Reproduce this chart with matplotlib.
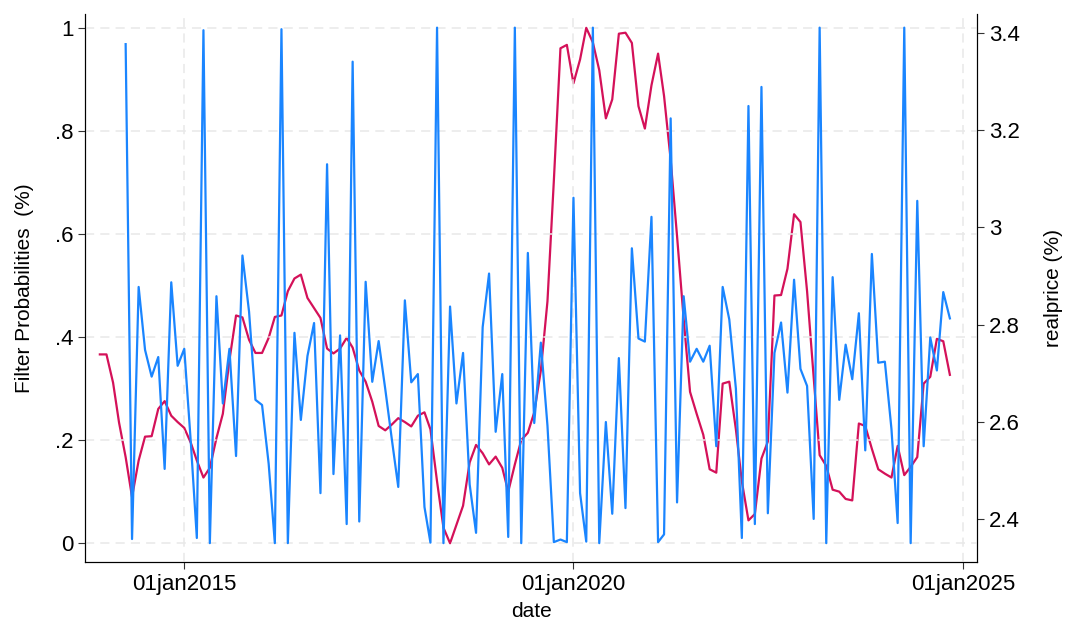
import matplotlib
matplotlib.use("Agg")
import matplotlib.pyplot as plt
import pandas as pd
import datetime as dt

plt.rcParams["font.family"] = ["Liberation Sans", "DejaVu Sans"]

# monthly real price, Dec 2013 - Nov 2024
realprice = [
    2.739, 2.739, 2.681, 2.599, 2.528, 2.446, 2.521, 2.570, 2.571, 2.627,
    2.643, 2.613, 2.600, 2.588, 2.557, 2.521, 2.486, 2.506, 2.567, 2.617,
    2.727, 2.819, 2.815, 2.769, 2.742, 2.742, 2.773, 2.816, 2.819, 2.869,
    2.895, 2.903, 2.855, 2.834, 2.814, 2.751, 2.741, 2.751, 2.773, 2.753,
    2.706, 2.683, 2.642, 2.592, 2.583,
    2.595, 2.608, 2.600, 2.591, 2.613, 2.620, 2.585, 2.478, 2.383, 2.351,
    2.389, 2.428, 2.517, 2.553, 2.536, 2.513, 2.529, 2.506, 2.457, 2.513,
    2.563, 2.578, 2.620, 2.706, 2.848, 3.096, 3.368, 3.375, 3.296, 3.345,
    3.410, 3.380, 3.323, 3.224, 3.263, 3.398, 3.400, 3.379, 3.249, 3.203,
    3.292, 3.357, 3.270,
    3.139, 2.982, 2.812, 2.662, 2.617, 2.574, 2.503, 2.496, 2.679, 2.683,
    2.585, 2.478, 2.398, 2.411, 2.525, 2.560, 2.860, 2.861, 2.915, 3.027,
    3.011, 2.869, 2.691, 2.532, 2.510, 2.461, 2.457, 2.442, 2.439, 2.597,
    2.592, 2.545, 2.503, 2.494, 2.486, 2.551, 2.491, 2.508, 2.528, 2.679,
    2.693, 2.771, 2.766, 2.697,
]

# monthly filter probabilities, Apr 2014 - Nov 2024
filter_prob = [
    0.968, 0.008, 0.497, 0.375, 0.323, 0.361, 0.144, 0.506, 0.344, 0.377,
    0.194, 0.010, 0.995, 0.0, 0.479, 0.271, 0.377, 0.169, 0.558, 0.449,
    0.278, 0.268, 0.154, 0.0, 0.997, 0.0, 0.408, 0.239, 0.363, 0.427,
    0.097, 0.735, 0.134, 0.403, 0.037, 0.934, 0.042, 0.507, 0.313, 0.392,
    0.299, 0.201, 0.109, 0.471, 0.312, 0.328, 0.070, 0.001, 1.0, 0.0,
    0.459, 0.271, 0.369, 0.114, 0.020, 0.419, 0.523, 0.216, 0.328, 0.012,
    1.0, 0.0, 0.563, 0.233, 0.389, 0.228, 0.002, 0.007, 0.002, 0.670,
    0.097, 0.003, 1.0, 0.0, 0.235, 0.057, 0.359, 0.068, 0.572, 0.397,
    0.391, 0.633, 0.002, 0.017,
    0.824, 0.079, 0.479, 0.352, 0.377, 0.352, 0.383, 0.188, 0.497, 0.434,
    0.300, 0.010, 0.848, 0.037, 0.885, 0.058, 0.369, 0.428, 0.292, 0.511,
    0.338, 0.305, 0.047, 1.0, 0.0, 0.516, 0.278, 0.385, 0.318, 0.446,
    0.180, 0.561, 0.350, 0.352, 0.221, 0.039, 1.0, 0.0, 0.664, 0.188,
    0.399, 0.335, 0.487, 0.436,
]

price_dates = pd.date_range("2013-12-01", periods=len(realprice), freq="MS")
prob_dates = pd.date_range("2014-04-01", periods=len(filter_prob), freq="MS")

left_ticks = [0, 0.2, 0.4, 0.6, 0.8, 1]
left_labels = ["0", ".2", ".4", ".6", ".8", "1"]
right_ticks = [2.4, 2.6, 2.8, 3.0, 3.2, 3.4]
right_labels = ["2.4", "2.6", "2.8", "3", "3.2", "3.4"]
x_ticks = [dt.datetime(2015, 1, 1), dt.datetime(2020, 1, 1), dt.datetime(2025, 1, 1)]
x_labels = ["01jan2015", "01jan2020", "01jan2025"]

fig = plt.figure(figsize=(10.67, 6.24), dpi=100)
ax1 = fig.add_axes([0.080, 0.099, 0.836, 0.879])
ax2 = ax1.twinx()

ax1.plot(prob_dates, filter_prob, color="#1a85ff", linewidth=1.6, zorder=3)
ax2.plot(price_dates, realprice, color="#d41159", linewidth=1.6)
ax1.set_zorder(ax2.get_zorder() + 1)
ax1.patch.set_visible(False)

ax1.set_xlim(dt.datetime(2013, 9, 24), dt.datetime(2025, 3, 10))
ax1.set_ylim(-0.037, 1.027)
ax2.set_ylim(2.312, 3.439)

ax1.set_yticks(left_ticks)
ax1.set_yticklabels(left_labels)
ax2.set_yticks(right_ticks)
ax2.set_yticklabels(right_labels)
ax1.set_xticks(x_ticks)
ax1.set_xticklabels(x_labels)

for a in (ax1, ax2):
    a.tick_params(labelsize=16, length=5, color="#333333")
    a.spines["top"].set_visible(False)

ax1.grid(True, color="#e8e8e8", linestyle=(0, (6, 4)), linewidth=1.1)
ax1.set_ylabel("Filter Probabilities  (%)", fontsize=15, labelpad=15)
ax2.set_ylabel("realprice (%)", fontsize=15, labelpad=17)
ax1.set_xlabel("date", fontsize=15, labelpad=5)

fig.savefig("out.png", dpi=100)
plt.close(fig)
